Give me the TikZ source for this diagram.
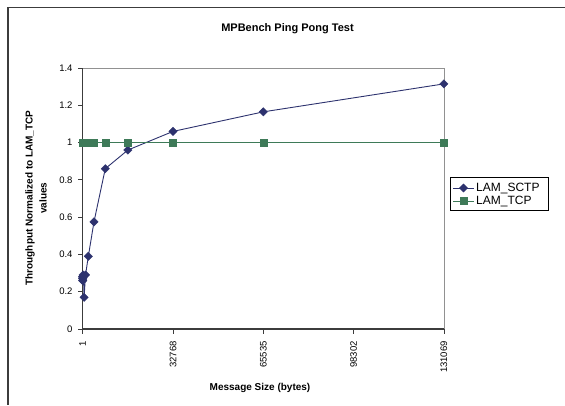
\documentclass[tikz,border=0pt]{standalone}
\usepackage{fontspec}
\setmainfont{Liberation Sans}
\usetikzlibrary{shapes.geometric}
\definecolor{sctpblue}{RGB}{45,50,110}
\definecolor{tcpgreen}{RGB}{62,122,88}
\definecolor{axisgray}{RGB}{60,60,60}
\definecolor{bordergray}{RGB}{145,145,145}
\tikzset{
  sctpmark/.style={diamond, fill=sctpblue, draw=sctpblue, inner sep=0pt, minimum size=8.5pt},
  tcpmark/.style={rectangle, fill=tcpgreen, draw=tcpgreen, inner sep=0pt, minimum size=7pt},
  sctpline/.style={sctpblue, line width=0.9pt},
  tcpline/.style={tcpgreen, line width=0.9pt},
  ticklabel/.style={font=\fontsize{9.5}{11}\selectfont, inner sep=0pt},
  axistitle/.style={font=\bfseries\fontsize{10}{14}\selectfont, inner sep=0pt},
  legendtext/.style={font=\fontsize{12}{14}\selectfont, anchor=west, inner sep=0pt},
}
\begin{document}
\begin{tikzpicture}[x=1pt,y=-1pt]
\useasboundingbox (0,0) rectangle (565,405);
% chart frame (top and left edges)
\draw[axisgray, line width=1.2pt] (565,7.5) -- (8,7.5) -- (8,405);
% title
\node[font=\bfseries\fontsize{11}{13}\selectfont] (title) at (287.5,29) {MPBench Ping Pong Test};

% plot area: x in KiB (1 unit = 1024 bytes), y = normalised throughput
\begin{scope}[shift={(82.7pt,-329pt)}, x=2.821875pt, y=186.4pt]
  \draw[bordergray, line width=0.7pt] (0,1.4) -- (128,1.4) -- (128,0);
  \draw[axisgray, line width=1.4pt] (0,1.4) -- (0,0) -- (128,0);
  % y ticks and labels
  \foreach \v/\t in {0/0,0.2/0.2,0.4/0.4,0.6/0.6,0.8/0.8,1/1,1.2/1.2,1.4/1.4} {
    \draw[axisgray, line width=0.8pt] (0,\v) -- ++(-5.2pt,0);
    \node[ticklabel, anchor=east] (yl\t) at ([xshift=-10pt]0,\v) {\t};
  }
  % x ticks and labels
  \foreach \p/\t in {0/1,32/32768,64/65535,96/98302,128/131069} {
    \draw[axisgray, line width=0.8pt] (\p,0) -- ++(0,-4.5pt);
    \node[ticklabel, rotate=90, anchor=east] (xl\t) at ([yshift=-12pt]\p,0) {\t};
  }
  % data points
  \foreach \x/\y [count=\i] in {0.001/0.26,0.002/0.27,0.004/0.28,0.008/0.28,0.016/0.27,
      0.031/0.26,0.0625/0.28,0.125/0.29,0.25/0.28,0.5/0.17,1/0.29,2/0.39,4/0.575,
      8/0.86,16/0.96,32/1.06,64/1.165,128/1.315} {
    \coordinate (s\i) at (\x,\y);
    \coordinate (t\i) at (\x,1);
  }
  % LAM_SCTP series
  \draw[sctpline] (s1) \foreach \i in {2,...,18} { -- (s\i) };
  \foreach \i in {1,...,18} \node[sctpmark] (sm\i) at (s\i) {};
  % LAM_TCP series
  \draw[tcpline] (t1) -- (t18);
  \foreach \i in {1,...,18} \node[tcpmark] (tm\i) at (t\i) {};
\end{scope}

% axis titles
\node[axistitle, rotate=90, align=center] (ytitle) at (36,198) {Throughput Normalized to LAM\_TCP\\values};
\node[axistitle] (xtitle) at (260,388) {Message Size (bytes)};

% legend
\draw[black, line width=0.7pt] (450,177) rectangle (548,210);
\coordinate (la1) at (453,188);
\coordinate (lb1) at (474,188);
\coordinate (la2) at (453,201);
\coordinate (lb2) at (474,201);
\draw[sctpline] (la1) -- (lb1);
\node[sctpmark] (lm1) at (463.5,188) {};
\draw[tcpline] (la2) -- (lb2);
\node[tcpmark] (lm2) at (463.5,201) {};
\node[legendtext] (lt1) at (476,188) {LAM\_SCTP};
\node[legendtext] (lt2) at (476,201) {LAM\_TCP};
\end{tikzpicture}
\end{document}
